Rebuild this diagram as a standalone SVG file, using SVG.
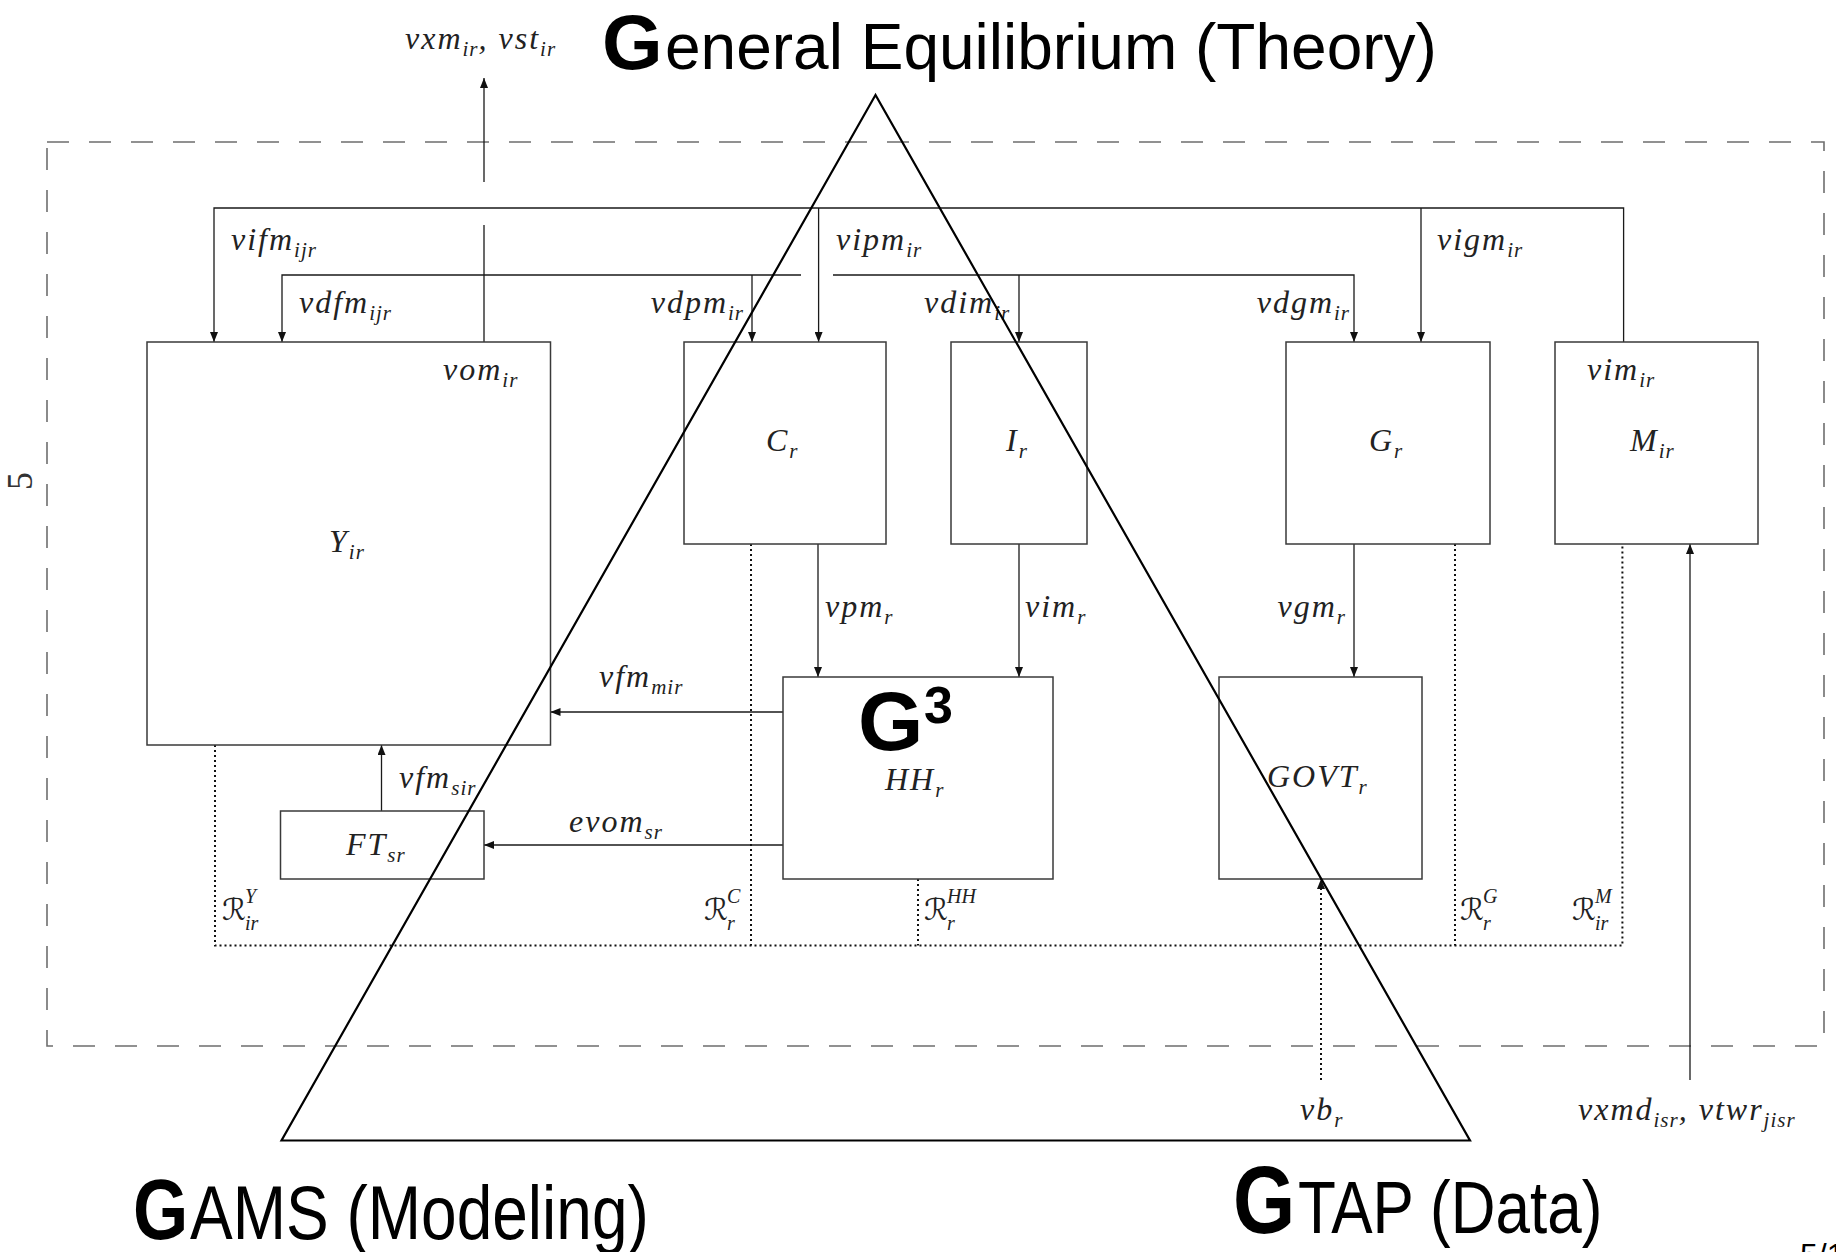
<svg xmlns="http://www.w3.org/2000/svg" width="1836" height="1252" viewBox="0 0 1836 1252">
<defs>
<style>
.box{fill:none;stroke:#3a3a3a;stroke-width:1.5}
.ln{fill:none;stroke:#1a1a1a;stroke-width:1.3}
.dot{fill:none;stroke:#111;stroke-width:2;stroke-dasharray:2 3}
.frame{fill:none;stroke:#6e6e6e;stroke-width:1.6;stroke-dasharray:22 20}
.m{font-family:"Liberation Serif",serif;font-style:italic;font-size:32px;fill:#222;letter-spacing:2px}
.s{font-size:21px;letter-spacing:1px}
.cal{font-family:"DejaVu Sans","DejaVu Serif",serif;font-size:30px;fill:#222}
.ss{font-family:"Liberation Serif",serif;font-style:italic;font-size:20px;fill:#222}
.big{font-family:"Liberation Sans",Arial,sans-serif;fill:#000}
</style>
<marker id="ah" markerWidth="10" markerHeight="8" refX="10" refY="4" orient="auto" markerUnits="userSpaceOnUse"><path d="M0,0 L10,4 L0,8 z" fill="#111"/></marker>
</defs>
<rect width="1836" height="1252" fill="#fff"/>

<g id="frame">
<rect class="frame" x="47" y="142" width="1777" height="904"/>
<text transform="translate(20,481) rotate(-90)" text-anchor="middle" dominant-baseline="central" font-family="Liberation Serif,serif" font-size="36" fill="#333">5</text>
</g>

<g id="connectors">
<path class="ln" d="M484,342 V225 M484,182 V78" marker-end="url(#ah)"/>
<path class="ln" d="M1623.6,342 V208 H214 V342" marker-end="url(#ah)"/>
<path class="ln" d="M818.6,208 V342" marker-end="url(#ah)"/>
<path class="ln" d="M1421,208 V342" marker-end="url(#ah)"/>
<path class="ln" d="M801,275 H282 V342" marker-end="url(#ah)"/>
<path class="ln" d="M833,275 H1354 V342" marker-end="url(#ah)"/>
<path class="ln" d="M752,275 V342" marker-end="url(#ah)"/>
<path class="ln" d="M1019,275 V342" marker-end="url(#ah)"/>
<path class="ln" d="M818,544 V677" marker-end="url(#ah)"/>
<path class="ln" d="M1019,544 V677" marker-end="url(#ah)"/>
<path class="ln" d="M1354,544 V677" marker-end="url(#ah)"/>
<path class="ln" d="M783,712 H550.5" marker-end="url(#ah)"/>
<path class="ln" d="M783,845 H484" marker-end="url(#ah)"/>
<path class="ln" d="M381.5,811 V745" marker-end="url(#ah)"/>
<path class="ln" d="M1690,1080 V544" marker-end="url(#ah)"/>
<path class="dot" d="M1321,1080 V879" marker-end="url(#ah)"/>
<path class="dot" d="M215,745 V945.5 H1622.4 V544"/>
<path class="dot" d="M751,544 V945.5"/>
<path class="dot" d="M918,879 V945.5"/>
<path class="dot" d="M1455,544 V945.5"/>
</g>

<g id="labels">
<text class="m" x="405" y="49">vxm<tspan class="s" dy="7">ir</tspan><tspan dy="-7">, vst</tspan><tspan class="s" dy="7">ir</tspan></text>
<text class="m" x="231" y="250">vifm<tspan class="s" dy="7">ijr</tspan></text>
<text class="m" x="836" y="250">vipm<tspan class="s" dy="7">ir</tspan></text>
<text class="m" x="1437" y="250">vigm<tspan class="s" dy="7">ir</tspan></text>
<text class="m" x="299" y="313">vdfm<tspan class="s" dy="7">ijr</tspan></text>
<text class="m" x="744" y="313" text-anchor="end">vdpm<tspan class="s" dy="7">ir</tspan></text>
<text class="m" x="924" y="313">vdim<tspan class="s" dy="7">ir</tspan></text>
<text class="m" x="1350" y="313" text-anchor="end">vdgm<tspan class="s" dy="7">ir</tspan></text>
<text class="m" x="825" y="617">vpm<tspan class="s" dy="7">r</tspan></text>
<text class="m" x="1025" y="617">vim<tspan class="s" dy="7">r</tspan></text>
<text class="m" x="1346" y="617" text-anchor="end">vgm<tspan class="s" dy="7">r</tspan></text>
<text class="m" x="599" y="687">vfm<tspan class="s" dy="7">mir</tspan></text>
<text class="m" x="399" y="788">vfm<tspan class="s" dy="7">sir</tspan></text>
<text class="m" x="569" y="832">evom<tspan class="s" dy="7">sr</tspan></text>
<text class="m" x="1300" y="1120">vb<tspan class="s" dy="7">r</tspan></text>
<text class="m" x="1578" y="1120">vxmd<tspan class="s" dy="7">isr</tspan><tspan dy="-7">, vtwr</tspan><tspan class="s" dy="7">jisr</tspan></text>
<g id="RY"><text class="cal" x="222" y="920">ℛ</text><text class="ss" x="245" y="903">Y</text><text class="ss" x="245" y="930">ir</text></g>
<g id="RC"><text class="cal" x="704" y="920">ℛ</text><text class="ss" x="727" y="903">C</text><text class="ss" x="727" y="930">r</text></g>
<g id="RHH"><text class="cal" x="924" y="920">ℛ</text><text class="ss" x="947" y="903">HH</text><text class="ss" x="947" y="930">r</text></g>
<g id="RG"><text class="cal" x="1460" y="920">ℛ</text><text class="ss" x="1483" y="903">G</text><text class="ss" x="1483" y="930">r</text></g>
<g id="RM"><text class="cal" x="1572" y="920">ℛ</text><text class="ss" x="1595" y="903">M</text><text class="ss" x="1595" y="930">ir</text></g>
</g>

<g id="Y"><rect class="box" x="147" y="342" width="403.5" height="403"/>
<text class="m" x="329" y="552">Y<tspan class="s" dy="7">ir</tspan></text>
<text class="m" x="443" y="380">vom<tspan class="s" dy="7">ir</tspan></text></g>
<g id="C"><rect class="box" x="684" y="342" width="202" height="202"/>
<text class="m" x="766" y="451">C<tspan class="s" dy="7">r</tspan></text></g>
<g id="I"><rect class="box" x="951" y="342" width="136" height="202"/>
<text class="m" x="1006" y="451">I<tspan class="s" dy="7">r</tspan></text></g>
<g id="G"><rect class="box" x="1286" y="342" width="204" height="202"/>
<text class="m" x="1369" y="451">G<tspan class="s" dy="7">r</tspan></text></g>
<g id="M"><rect class="box" x="1555" y="342" width="203" height="202"/>
<text class="m" x="1630" y="451">M<tspan class="s" dy="7">ir</tspan></text>
<text class="m" x="1587" y="380">vim<tspan class="s" dy="7">ir</tspan></text></g>
<g id="HH"><rect class="box" x="783" y="677" width="270" height="202"/>
<text class="m" x="885" y="790">HH<tspan class="s" dy="7">r</tspan></text></g>
<g id="GOVT"><rect class="box" x="1219" y="677" width="203" height="202"/>
<text class="m" x="1267" y="787">GOVT<tspan class="s" dy="7">r</tspan></text></g>
<g id="FT"><rect class="box" x="280.5" y="811" width="203.5" height="68"/>
<text class="m" x="346" y="855">FT<tspan class="s" dy="7">sr</tspan></text></g>

<g id="triangle">
<path d="M875.5,95 L281.5,1140.5 L1470,1140.5 Z" fill="none" stroke="#000" stroke-width="2.2" stroke-linejoin="miter"/>
</g>

<g id="titles">
<text class="big" y="69"><tspan x="602" font-weight="bold" font-size="78">G</tspan><tspan x="665" font-size="64">eneral Equilibrium (Theory)</tspan></text>
<text class="big" x="858" y="750" font-weight="bold" font-size="84">G</text>
<text class="big" x="924" y="723" font-weight="bold" font-size="52">3</text>
<text class="big" transform="translate(133,1239) scale(1,1.2)"><tspan x="0" font-weight="bold" font-size="71">G</tspan><tspan x="57" font-size="64">AMS (Modeling)</tspan></text>
<text class="big" transform="translate(1233,1233) scale(1,1.2)"><tspan x="0" font-weight="bold" font-size="80">G</tspan><tspan x="65" font-size="62">TAP (Data)</tspan></text>
<text class="big" x="1800" y="1266" font-size="32">5/1</text>
</g>
</svg>
